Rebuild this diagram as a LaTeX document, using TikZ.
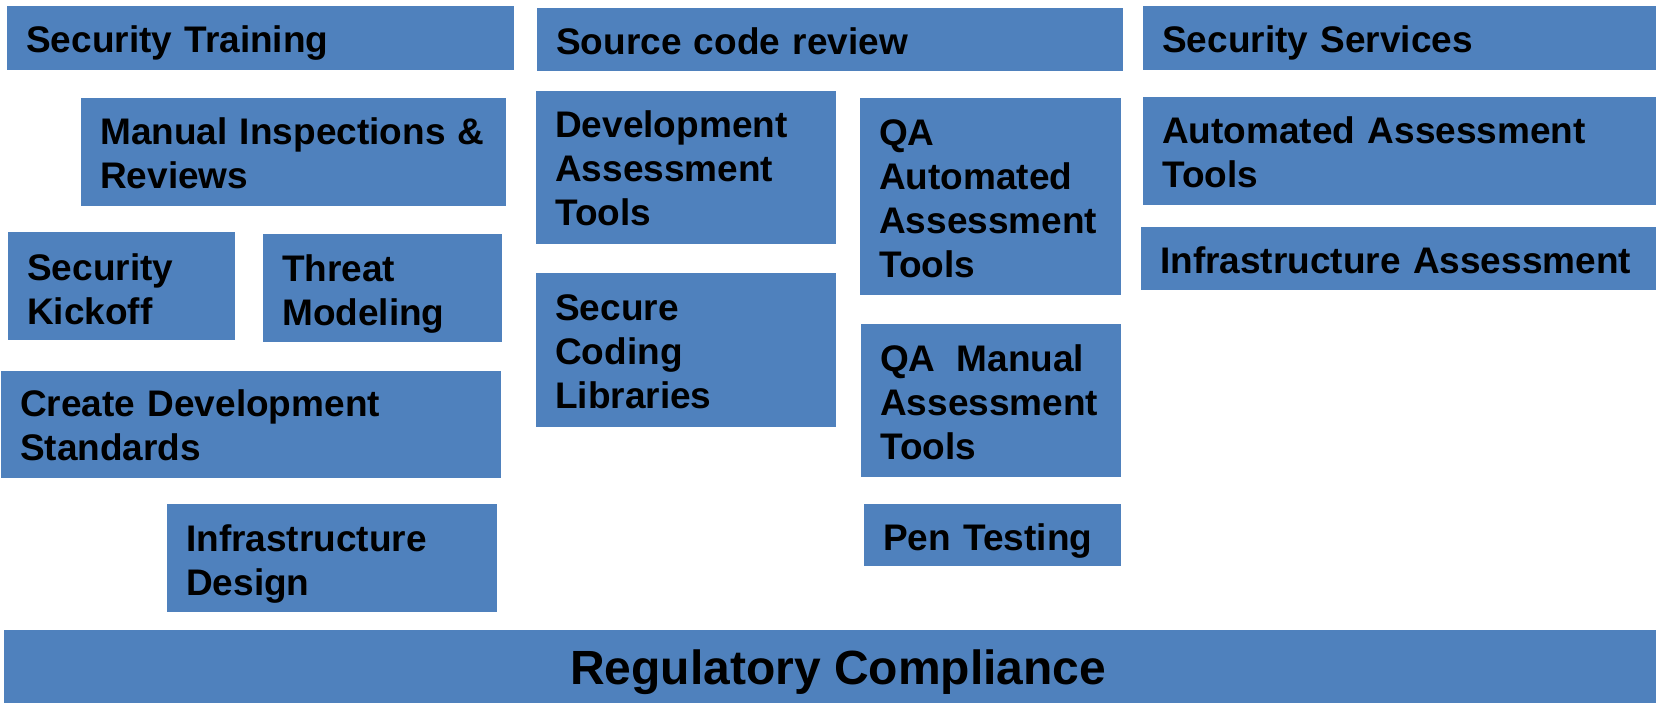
\documentclass[tikz,border=0pt]{standalone}
\usepackage{fontspec}
\setmainfont{Liberation Sans}
\definecolor{boxblue}{HTML}{4F81BD}
\tikzset{
  blk/.style={fill=boxblue, draw=none, anchor=north west, inner sep=0pt},
  txt/.style={anchor=west, inner xsep=19pt, inner ysep=0pt, align=left,
    font=\fontsize{37}{44}\selectfont\bfseries, text=black},
}
% name, x, y, w, h, text width, downward text shift, text
\newcommand{\bx}[8]{%
  \node[blk, minimum width=#4pt, minimum height=#5pt] (#1) at (#2,#3) {};
  \node[txt, text width=#6pt] (#1t) at ([yshift=-#7pt]#1.west) {#8};}
\begin{document}
\begin{tikzpicture}[x=1pt,y=-1pt]
\useasboundingbox (0,0) rectangle (1656,703);
\bx{st}{7}{6}{507}{64}{469}{5}{Security Training}
\bx{scr}{537}{8}{586}{63}{548}{2}{Source code review}
\bx{ss}{1143}{6}{513}{64}{475}{5}{Security Services}
\bx{mir}{81}{98}{425}{108}{387}{1.5}{Manual Inspections \&\\Reviews}
\bx{dat}{536}{91}{300}{153}{262}{1}{Development\\Assessment\\Tools}
\bx{qaa}{860}{98}{261}{197}{223}{2}{QA\\Automated\\Assessment\\Tools}
\bx{aat}{1143}{97}{513}{108}{475}{1}{Automated Assessment\\Tools}
\bx{ia}{1141}{227}{515}{63}{477}{2}{Infrastructure Assessment}
\bx{sk}{8}{232}{227}{108}{189}{3}{Security\\Kickoff}
\bx{tm}{263}{234}{239}{108}{201}{6}{Threat\\Modeling}
\bx{scl}{536}{273}{300}{154}{262}{2}{Secure\\Coding\\Libraries}
\bx{qam}{861}{324}{260}{153}{222}{2}{QA\hspace{21pt}Manual\\Assessment\\Tools}
\bx{cds}{1}{371}{500}{107}{462}{1}{Create Development\\Standards}
\bx{pt}{864}{504}{257}{62}{219}{6}{Pen Testing}
\bx{id}{167}{504}{330}{108}{292}{6}{Infrastructure\\Design}
\node[blk, minimum width=1652pt, minimum height=73pt] (rc) at (4,630) {};
\node[txt, anchor=center, inner xsep=0pt, font=\fontsize{48}{56}\selectfont\bfseries] (rct)
  at ([xshift=8pt,yshift=-5pt]rc.center) {Regulatory Compliance};
\end{tikzpicture}
\end{document}
